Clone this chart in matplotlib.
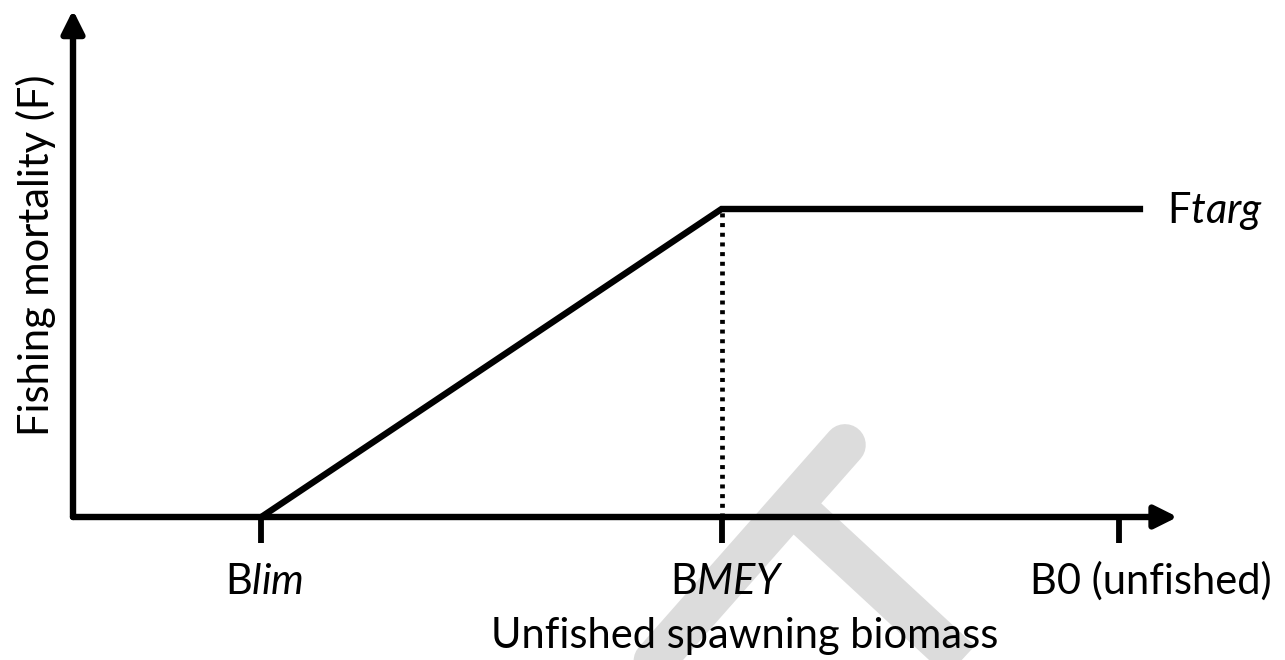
import matplotlib
matplotlib.use("Agg")
import matplotlib.pyplot as plt
from matplotlib.patches import FancyArrowPatch

plt.rcParams.update({'font.family': 'Lato'})
plt.rcParams.update({'mathtext.fontset': 'custom',
                     'mathtext.rm': 'Lato',
                     'mathtext.it': 'Lato:italic'})

# Harvest control rule (biomass relative to B0, F relative to Ftarg)
b_lim = 0.18
b_mey = 0.62
b_zero = 1.0
f_targ = 1.0
b_line_end = 1.02

rule_b = [b_lim, b_mey, b_line_end]
rule_f = [0.0, f_targ, f_targ]

tick_pos = [b_lim, b_mey, b_zero]
tick_labels = [r'B$\mathit{lim}$', r'B$\mathit{MEY}$', 'B0 (unfished)']
label_pos = [0.183, 0.625, 1.030]

# faint watermark in the background
mark_a = ([0.738, 0.523], [0.234, -0.594])
mark_b = ([0.695, 0.889], [0.016, -0.594])

fig = plt.figure(figsize=(12.85, 6.6), dpi=100)
ax = fig.add_axes([0, 0, 1, 1])
ax.set_xlim(-73 / 1046, 1212 / 1046)
ax.set_ylim(-143 / 308, 517 / 308)
ax.axis('off')

ax.plot(*mark_a, color='#dcdcdc', lw=30, solid_capstyle='round', zorder=0)
ax.plot(*mark_b, color='#dcdcdc', lw=30, solid_capstyle='butt', zorder=0)

# axes with arrow heads
for tip in [(1.056, 0), (0, 1.646)]:
    arr = FancyArrowPatch((0, 0), tip, arrowstyle='-|>', mutation_scale=34,
                          lw=4.6, color='k', shrinkA=0, shrinkB=0, zorder=3)
    ax.add_patch(arr)

# ticks
for b in tick_pos:
    ax.plot([b, b], [0, -0.085], color='k', lw=4.2, solid_capstyle='butt', zorder=3)

# control rule
ax.plot(rule_b, rule_f, color='k', lw=4.6, solid_joinstyle='miter', zorder=4)
ax.plot([b_mey, b_mey], [0, f_targ], color='k', lw=3.4,
        linestyle=(0, (0.85, 1.2)), dash_capstyle='butt', zorder=2)

for x, lab in zip(label_pos, tick_labels):
    ax.text(x, -0.25, lab, ha='center', va='baseline', fontsize=30)

ax.text(1.046, 0.955, r'F$\mathit{targ}$', ha='left', va='baseline', fontsize=30)
ax.text(0.642, -0.425, 'Unfished spawning biomass', ha='center', va='baseline', fontsize=30)
ax.text(-0.0354, 0.851, 'Fishing mortality (F)', ha='center', va='center',
        rotation=90, fontsize=30)

fig.savefig('out.png', dpi=100)
